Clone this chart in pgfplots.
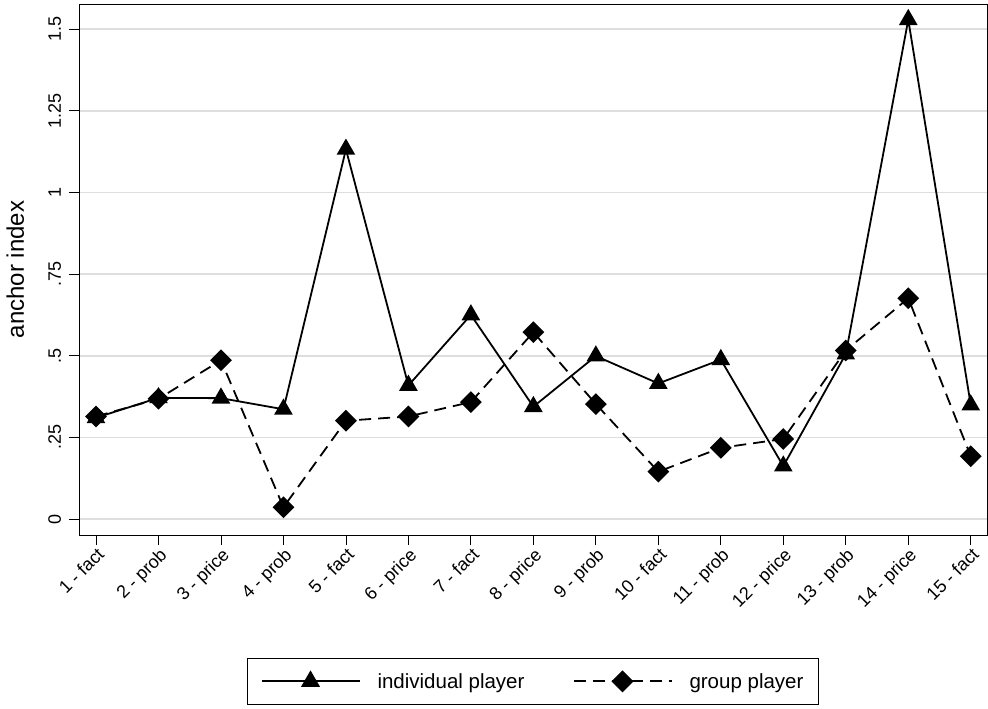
\documentclass[border=0pt]{standalone}
\usepackage{fontspec}
\setmainfont{Liberation Sans}
\usepackage{pgfplots}
\pgfplotsset{compat=1.18}
\begin{document}
\begin{tikzpicture}
\begin{axis}[
  scale only axis,
  width=908pt, height=531pt,
  xmin=0.728, xmax=15.26,
  ymin=-0.049, ymax=1.577,
  axis line style={black, line width=0.9pt},
  tick align=outside, tick pos=left,
  major tick length=10pt,
  tick style={black, line width=0.8pt},
  xtick={1,...,15},
  xticklabels={1 - fact,2 - prob,3 - price,4 - prob,5 - fact,6 - price,7 - fact,8 - price,9 - prob,10 - fact,11 - prob,12 - price,13 - prob,14 - price,15 - fact},
  xticklabel style={rotate=45, anchor=north east, font=\fontsize{18}{21}\selectfont, inner sep=1pt},
  ytick={0,0.25,0.5,0.75,1,1.25,1.5},
  yticklabels={0,.25,.5,.75,1,1.25,1.5},
  yticklabel style={xshift=-8pt, rotate=90, anchor=base, font=\fontsize{18}{21}\selectfont},
  ymajorgrids,
  major grid style={draw=black!13, line width=1.7pt},
  ylabel={anchor index},
  ylabel style={at={(axis description cs:-0.0606,0.5)}, anchor=base, font=\fontsize{24}{28}\selectfont},
  /pgf/number format/assume math mode=true,
  clip=false,
  legend columns=2,
  legend style={at={(0.5,-0.2316)}, anchor=north, draw=black,
    font=\fontsize{20.5}{24}\selectfont, inner xsep=13pt, inner ysep=13pt,
    nodes={inner sep=2pt},
    /tikz/every odd column/.append style={column sep=15pt},
    /tikz/every even column/.append style={column sep=46pt}},
  legend cell align=left,
  legend image post style={line width=2pt},
  legend image code/.code={\draw[mark repeat=2,mark phase=2] plot coordinates {(0pt,0pt) (49pt,0pt) (98pt,0pt)};},
]
\addplot[black, line width=1.8pt, mark=triangle*, mark size=9pt, mark options={solid}]
 coordinates {(1,0.310) (2,0.371) (3,0.370) (4,0.336) (5,1.132) (6,0.409) (7,0.625) (8,0.344) (9,0.499) (10,0.415) (11,0.488) (12,0.162) (13,0.505) (14,1.529) (15,0.349)};
\addlegendentry{individual player}
\addplot[black, line width=1.8pt, dash pattern=on 12pt off 7pt, mark=square*, mark size=6.8pt, mark options={solid, rotate=45}]
 coordinates {(1,0.314) (2,0.368) (3,0.486) (4,0.036) (5,0.301) (6,0.314) (7,0.358) (8,0.572) (9,0.352) (10,0.145) (11,0.218) (12,0.245) (13,0.516) (14,0.676) (15,0.192)};
\addlegendentry{group player}
\end{axis}
\pgfresetboundingbox
\path[use as bounding box] ([shift={(-79pt,-174pt)}]current axis.south west) rectangle ([shift={(1pt,4pt)}]current axis.north east);
\end{tikzpicture}
\end{document}
